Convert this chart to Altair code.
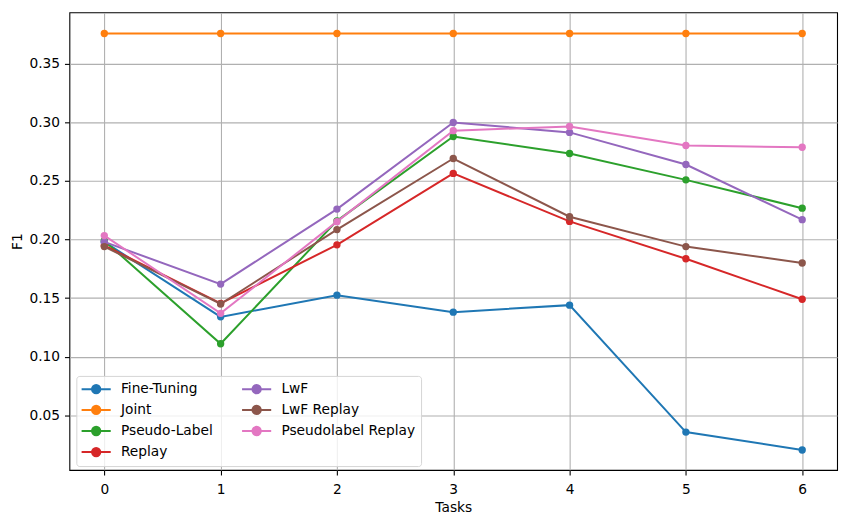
import altair as alt
import pandas as pd

tasks = [0, 1, 2, 3, 4, 5, 6]
fine_tuning = [0.198, 0.134, 0.1525, 0.138, 0.144, 0.0356, 0.0203]
joint = [0.376, 0.376, 0.376, 0.376, 0.376, 0.376, 0.376]
pseudo_label = [0.199, 0.111, 0.216, 0.288, 0.2735, 0.251, 0.2268]
replay = [0.195, 0.1455, 0.1955, 0.2565, 0.2155, 0.1836, 0.149]
lwf = [0.198, 0.162, 0.226, 0.300, 0.2915, 0.2641, 0.217]
lwf_replay = [0.194, 0.145, 0.2085, 0.2692, 0.2195, 0.194, 0.180]
pseudolabel_replay = [0.2034, 0.137, 0.2153, 0.293, 0.2966, 0.2803, 0.2788]

series_names = ["Fine-Tuning", "Joint", "Pseudo-Label", "Replay", "LwF", "LwF Replay", "Pseudolabel Replay"]
series_values = [fine_tuning, joint, pseudo_label, replay, lwf, lwf_replay, pseudolabel_replay]
colors = ["#1f77b4", "#ff7f0e", "#2ca02c", "#d62728", "#9467bd", "#8c564b", "#e377c2"]

rows = []
for name, vals in zip(series_names, series_values):
    for t, v in zip(tasks, vals):
        rows.append({"Tasks": t, "F1": v, "series": name})
df = pd.DataFrame(rows)

# line-with-dot legend handle (scale = sqrt(size)/2 = 7 px per unit)
sym = "M-2.1,0H2.1M0.6,0A0.6,0.6,0,1,1,-0.6,0A0.6,0.6,0,1,1,0.6,0Z"

FS = 13.9

color_enc = alt.Color(
    "series:N",
    scale=alt.Scale(domain=series_names, range=colors),
    legend=alt.Legend(
        title=None,
        orient="none",
        direction="vertical",
        legendX=7,
        legendY=367,
        columns=2,
        columnPadding=25,
        rowPadding=3.3,
        symbolType=sym,
        symbolSize=196,
        symbolStrokeWidth=2,
        symbolOffset=7,
        labelOffset=17,
        labelFontSize=FS,
        labelFont="DejaVu Sans",
        labelColor="black",
        padding=5,
        strokeColor="#d5d5d5",
        fillColor="rgba(255,255,255,0.8)",
        cornerRadius=3,
    ),
)

x_enc = alt.X(
    "Tasks:Q",
    scale=alt.Scale(domain=[-0.3, 6.3], nice=False, zero=False),
    axis=alt.Axis(values=tasks, format="d", title="Tasks"),
)
y_enc = alt.Y(
    "F1:Q",
    scale=alt.Scale(domain=[0.0032, 0.394], nice=False, zero=False),
    axis=alt.Axis(values=[0.05, 0.10, 0.15, 0.20, 0.25, 0.30, 0.35], format=".2f", title="F1"),
)

layers = []
for name in series_names:
    layers.append(
        alt.Chart(df)
        .transform_filter(alt.datum.series == name)
        .mark_line(strokeWidth=2, point=alt.OverlayMarkDef(filled=True, size=55, opacity=1))
        .encode(x=x_enc, y=y_enc, color=color_enc, order="Tasks:Q")
    )

chart = (
    alt.layer(*layers)
    .properties(width=775, height=462, padding={"left": 62, "top": 2, "right": 10, "bottom": 45}, autosize=alt.AutoSizeParams(type="none"))
    .configure_view(stroke="black", strokeWidth=1.1)
    .configure_axis(
        grid=True,
        gridColor="#b0b0b0",
        gridWidth=1.1,
        domain=False,
        tickColor="black",
        tickSize=5,
        tickWidth=1.1,
        labelFont="DejaVu Sans",
        labelFontSize=FS,
        labelColor="black",
        titleFont="DejaVu Sans",
        titleFontSize=FS,
        titleFontWeight="normal",
        titleColor="black",
        labelPadding=5,
    )
    .configure_axisX(titlePadding=4, labelPadding=8)
    .configure_axisY(titlePadding=4.5)
)

chart.save("out.html", embed_options={"renderer": "svg", "actions": False})
